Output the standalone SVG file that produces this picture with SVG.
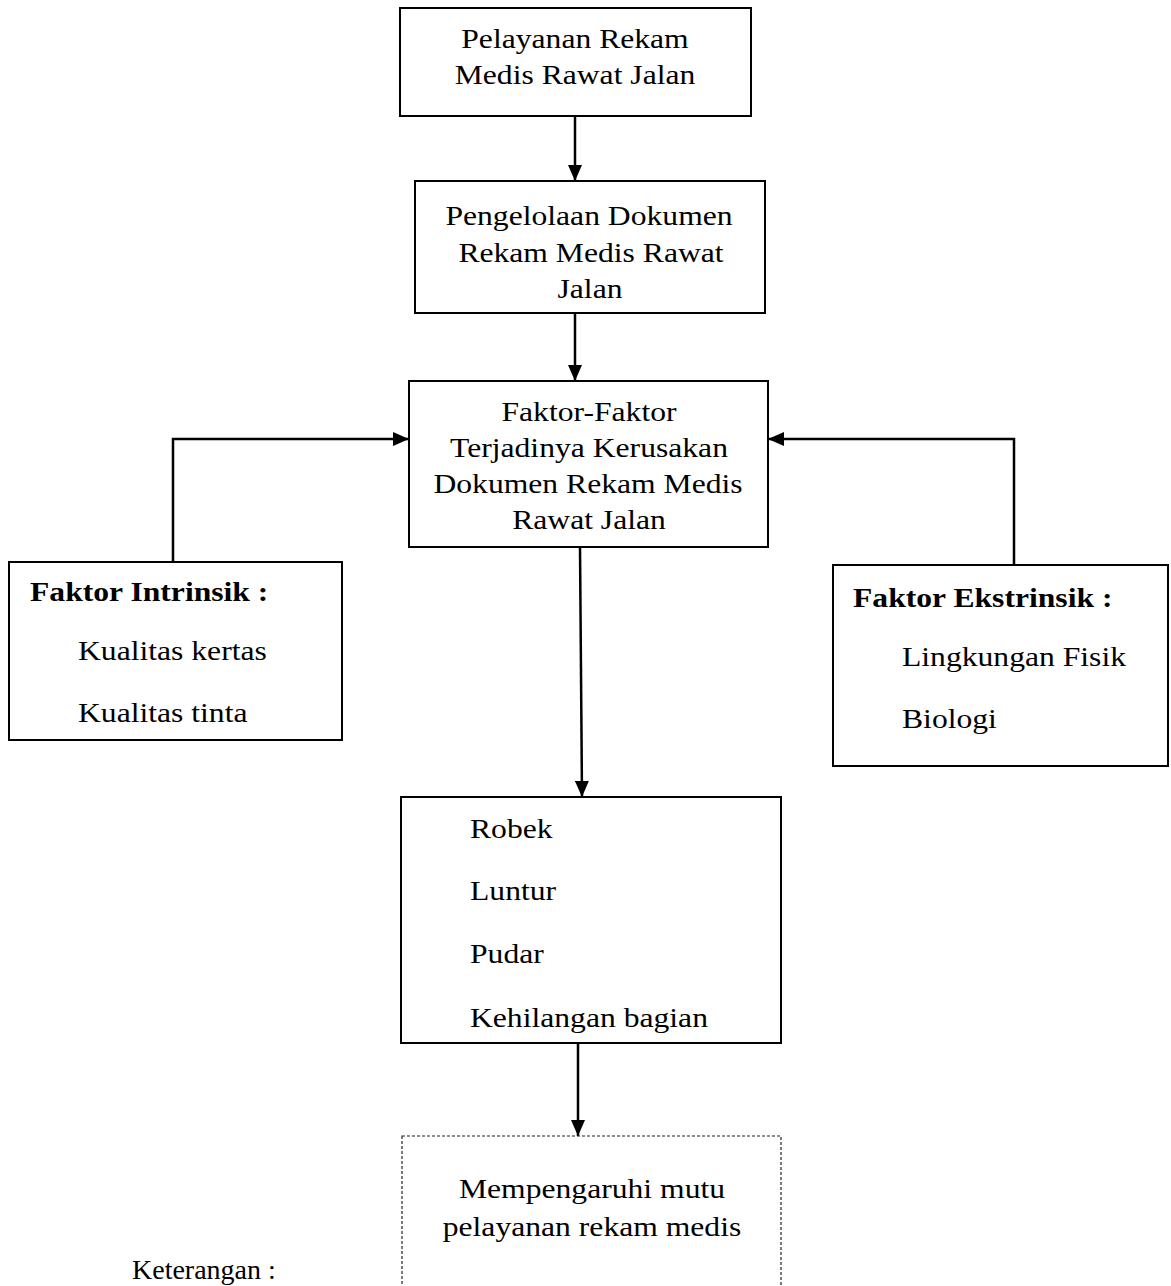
<svg xmlns="http://www.w3.org/2000/svg" width="1171" height="1286" viewBox="0 0 1171 1286">
<defs>
<style>
.box{fill:#fff;stroke:#000;stroke-width:2}
.dash{fill:#fff;stroke:#222;stroke-width:1.2;stroke-dasharray:3 2}
.t{font-family:"Liberation Serif","Times New Roman",serif;font-size:28px;fill:#000}
.c{text-anchor:middle}
.b{font-weight:bold}
.conn{fill:none;stroke:#000;stroke-width:2.5}
</style>
<marker id="ah" markerWidth="16" markerHeight="14" refX="16" refY="7" orient="auto" markerUnits="userSpaceOnUse">
<path d="M0,0 L16,7 L0,14 Z" fill="#000"/>
</marker>
</defs>
<rect width="1171" height="1286" fill="#fff"/>
<g id="connectors">
<path class="conn" d="M575,116 L575,181" marker-end="url(#ah)"/>
<path class="conn" d="M575,313 L575,381" marker-end="url(#ah)"/>
<path class="conn" d="M173,562 L173,439 L409,439" marker-end="url(#ah)"/>
<path class="conn" d="M1014,565 L1014,439 L768,439" marker-end="url(#ah)"/>
<path class="conn" d="M580,547 L582,797" marker-end="url(#ah)"/>
<path class="conn" d="M578,1043 L578,1136" marker-end="url(#ah)"/>
</g>
<g id="node-pelayanan">
<rect class="box" x="400" y="8" width="351" height="108"/>
<text class="t c" transform="matrix(1.13,0,0,1,575,48)">Pelayanan Rekam</text>
<text class="t c" transform="matrix(1.13,0,0,1,575,84)">Medis Rawat Jalan</text>
</g>
<g id="node-pengelolaan">
<rect class="box" x="415" y="181" width="350" height="132"/>
<text class="t c" transform="matrix(1.13,0,0,1,589,225)">Pengelolaan Dokumen</text>
<text class="t c" transform="matrix(1.13,0,0,1,591,262)">Rekam Medis Rawat</text>
<text class="t c" transform="matrix(1.13,0,0,1,590,298)">Jalan</text>
</g>
<g id="node-faktor">
<rect class="box" x="409" y="381" width="359" height="166"/>
<text class="t c" transform="matrix(1.13,0,0,1,589,421)">Faktor-Faktor</text>
<text class="t c" transform="matrix(1.13,0,0,1,589,457)">Terjadinya Kerusakan</text>
<text class="t c" transform="matrix(1.13,0,0,1,588,493)">Dokumen Rekam Medis</text>
<text class="t c" transform="matrix(1.13,0,0,1,589,529)">Rawat Jalan</text>
</g>
<g id="node-intrinsik">
<rect class="box" x="9" y="562" width="333" height="178"/>
<text class="t b" transform="matrix(1.13,0,0,1,30,601)">Faktor Intrinsik :</text>
<text class="t" transform="matrix(1.13,0,0,1,78,660)">Kualitas kertas</text>
<text class="t" transform="matrix(1.13,0,0,1,78,722)">Kualitas tinta</text>
</g>
<g id="node-ekstrinsik">
<rect class="box" x="833" y="565" width="335" height="201"/>
<text class="t b" transform="matrix(1.13,0,0,1,853,607)">Faktor Ekstrinsik :</text>
<text class="t" transform="matrix(1.13,0,0,1,902,666)">Lingkungan Fisik</text>
<text class="t" transform="matrix(1.13,0,0,1,902,728)">Biologi</text>
</g>
<g id="node-kerusakan">
<rect class="box" x="401" y="797" width="380" height="246"/>
<text class="t" transform="matrix(1.13,0,0,1,470,838)">Robek</text>
<text class="t" transform="matrix(1.13,0,0,1,470,900)">Luntur</text>
<text class="t" transform="matrix(1.13,0,0,1,470,963)">Pudar</text>
<text class="t" transform="matrix(1.13,0,0,1,470,1027)">Kehilangan bagian</text>
</g>
<g id="node-mutu">
<rect class="dash" x="402" y="1136" width="379" height="160"/>
<text class="t c" transform="matrix(1.13,0,0,1,592,1198)">Mempengaruhi mutu</text>
<text class="t c" transform="matrix(1.13,0,0,1,592,1236)">pelayanan rekam medis</text>
</g>
<g id="keterangan">
<text class="t" transform="matrix(1,0,0,1,132,1279)">Keterangan :</text>
</g>
</svg>
